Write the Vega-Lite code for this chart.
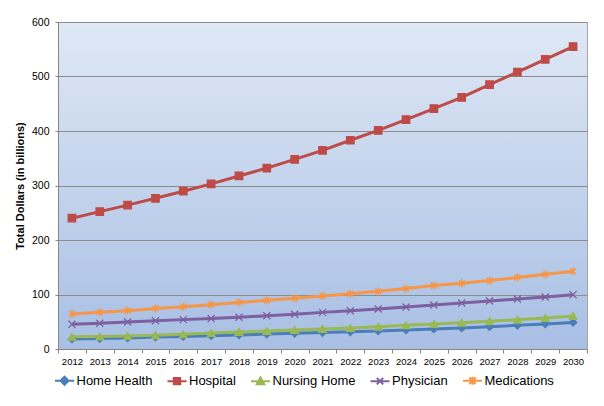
{
  "$schema": "https://vega.github.io/schema/vega-lite/v6.json",
  "description": "Projected total dollars by care category, 2012-2030.",
  "width": 529,
  "height": 327,
  "autosize": "none",
  "padding": {"left": 58, "top": 22, "right": 17, "bottom": 57},
  "background": "white",
  "datasets": {
    "costs": [
      {"year": 2012, "series": "Home Health", "value": 18.5},
      {"year": 2013, "series": "Home Health", "value": 19.2},
      {"year": 2014, "series": "Home Health", "value": 20.2},
      {"year": 2015, "series": "Home Health", "value": 21.8},
      {"year": 2016, "series": "Home Health", "value": 23},
      {"year": 2017, "series": "Home Health", "value": 24.4},
      {"year": 2018, "series": "Home Health", "value": 25.7},
      {"year": 2019, "series": "Home Health", "value": 27.4},
      {"year": 2020, "series": "Home Health", "value": 28.7},
      {"year": 2021, "series": "Home Health", "value": 30.2},
      {"year": 2022, "series": "Home Health", "value": 31.6},
      {"year": 2023, "series": "Home Health", "value": 33.2},
      {"year": 2024, "series": "Home Health", "value": 35},
      {"year": 2025, "series": "Home Health", "value": 36.8},
      {"year": 2026, "series": "Home Health", "value": 38.6},
      {"year": 2027, "series": "Home Health", "value": 41},
      {"year": 2028, "series": "Home Health", "value": 43.4},
      {"year": 2029, "series": "Home Health", "value": 45.9},
      {"year": 2030, "series": "Home Health", "value": 48.8},
      {"year": 2012, "series": "Hospital", "value": 240},
      {"year": 2013, "series": "Hospital", "value": 252},
      {"year": 2014, "series": "Hospital", "value": 264},
      {"year": 2015, "series": "Hospital", "value": 276.5},
      {"year": 2016, "series": "Hospital", "value": 289.5},
      {"year": 2017, "series": "Hospital", "value": 303},
      {"year": 2018, "series": "Hospital", "value": 317.5},
      {"year": 2019, "series": "Hospital", "value": 332},
      {"year": 2020, "series": "Hospital", "value": 348},
      {"year": 2021, "series": "Hospital", "value": 364.5},
      {"year": 2022, "series": "Hospital", "value": 383},
      {"year": 2023, "series": "Hospital", "value": 401},
      {"year": 2024, "series": "Hospital", "value": 421},
      {"year": 2025, "series": "Hospital", "value": 441},
      {"year": 2026, "series": "Hospital", "value": 461.5},
      {"year": 2027, "series": "Hospital", "value": 485},
      {"year": 2028, "series": "Hospital", "value": 508},
      {"year": 2029, "series": "Hospital", "value": 531.5},
      {"year": 2030, "series": "Hospital", "value": 555},
      {"year": 2012, "series": "Nursing Home", "value": 22.5},
      {"year": 2013, "series": "Nursing Home", "value": 23},
      {"year": 2014, "series": "Nursing Home", "value": 24},
      {"year": 2015, "series": "Nursing Home", "value": 25.3},
      {"year": 2016, "series": "Nursing Home", "value": 27},
      {"year": 2017, "series": "Nursing Home", "value": 29.2},
      {"year": 2018, "series": "Nursing Home", "value": 31.2},
      {"year": 2019, "series": "Nursing Home", "value": 33},
      {"year": 2020, "series": "Nursing Home", "value": 35},
      {"year": 2021, "series": "Nursing Home", "value": 36.8},
      {"year": 2022, "series": "Nursing Home", "value": 38.6},
      {"year": 2023, "series": "Nursing Home", "value": 41},
      {"year": 2024, "series": "Nursing Home", "value": 43.4},
      {"year": 2025, "series": "Nursing Home", "value": 45.9},
      {"year": 2026, "series": "Nursing Home", "value": 48.3},
      {"year": 2027, "series": "Nursing Home", "value": 50.9},
      {"year": 2028, "series": "Nursing Home", "value": 53.8},
      {"year": 2029, "series": "Nursing Home", "value": 56.9},
      {"year": 2030, "series": "Nursing Home", "value": 60.6},
      {"year": 2012, "series": "Physician", "value": 45.3},
      {"year": 2013, "series": "Physician", "value": 47.2},
      {"year": 2014, "series": "Physician", "value": 49.5},
      {"year": 2015, "series": "Physician", "value": 52},
      {"year": 2016, "series": "Physician", "value": 53.9},
      {"year": 2017, "series": "Physician", "value": 55.8},
      {"year": 2018, "series": "Physician", "value": 58.2},
      {"year": 2019, "series": "Physician", "value": 61},
      {"year": 2020, "series": "Physician", "value": 63.7},
      {"year": 2021, "series": "Physician", "value": 67.2},
      {"year": 2022, "series": "Physician", "value": 70.3},
      {"year": 2023, "series": "Physician", "value": 73.4},
      {"year": 2024, "series": "Physician", "value": 77},
      {"year": 2025, "series": "Physician", "value": 80.7},
      {"year": 2026, "series": "Physician", "value": 84.3},
      {"year": 2027, "series": "Physician", "value": 88},
      {"year": 2028, "series": "Physician", "value": 91.7},
      {"year": 2029, "series": "Physician", "value": 95.4},
      {"year": 2030, "series": "Physician", "value": 99.7},
      {"year": 2012, "series": "Medications", "value": 64.2},
      {"year": 2013, "series": "Medications", "value": 67.3},
      {"year": 2014, "series": "Medications", "value": 70.4},
      {"year": 2015, "series": "Medications", "value": 74.5},
      {"year": 2016, "series": "Medications", "value": 77.7},
      {"year": 2017, "series": "Medications", "value": 81.3},
      {"year": 2018, "series": "Medications", "value": 85.5},
      {"year": 2019, "series": "Medications", "value": 89.3},
      {"year": 2020, "series": "Medications", "value": 93.2},
      {"year": 2021, "series": "Medications", "value": 97.3},
      {"year": 2022, "series": "Medications", "value": 101.5},
      {"year": 2023, "series": "Medications", "value": 105.8},
      {"year": 2024, "series": "Medications", "value": 110.8},
      {"year": 2025, "series": "Medications", "value": 116.5},
      {"year": 2026, "series": "Medications", "value": 120.5},
      {"year": 2027, "series": "Medications", "value": 125.5},
      {"year": 2028, "series": "Medications", "value": 131.3},
      {"year": 2029, "series": "Medications", "value": 137},
      {"year": 2030, "series": "Medications", "value": 142.6}
    ]
  },
  "data": {"name": "costs"},
  "encoding": {
    "x": {
      "field": "year",
      "type": "ordinal",
      "scale": {"type": "band", "paddingInner": 0, "paddingOuter": 0},
      "axis": {
        "title": null,
        "labelAngle": 0,
        "labelFontSize": 9.5,
        "labelColor": "#000000",
        "labelPadding": 3,
        "tickBand": "extent",
        "tickSize": 4,
        "tickColor": "#868686",
        "domainColor": "#868686",
        "grid": false
      }
    },
    "y": {
      "field": "value",
      "type": "quantitative",
      "scale": {"domain": [0, 600], "nice": false},
      "axis": {
        "title": "Total Dollars (in billions)",
        "titleFontSize": 11,
        "titleFontWeight": "bold",
        "titleColor": "#000000",
        "titlePadding": 6,
        "values": [0, 100, 200, 300, 400, 500, 600],
        "labelFontSize": 10.5,
        "labelColor": "#000000",
        "labelPadding": 6,
        "tickSize": 3,
        "tickColor": "#868686",
        "domainColor": "#868686",
        "gridColor": "#8c8c8c",
        "gridWidth": 1
      }
    },
    "color": {
      "field": "series",
      "type": "nominal",
      "scale": {
        "domain": ["Home Health", "Hospital", "Nursing Home", "Physician", "Medications"],
        "range": ["#4a7ebb", "#be4b48", "#98b954", "#7d60a0", "#f79646"]
      },
      "legend": {
        "orient": "none",
        "legendX": -4,
        "legendY": 348,
        "direction": "horizontal",
        "title": null,
        "labelFontSize": 13,
        "labelColor": "#000000",
        "labelOffset": 1.5,
        "columnPadding": 10.5,
        "symbolSize": 361,
        "symbolStrokeWidth": 2,
        "encode": {
          "symbols": {
            "update": {
              "shape": {"signal": "datum.value === 'Home Health' ? 'M-1,0L1,0M0,-0.42L0.42,0L0,0.42L-0.42,0Z' : datum.value === 'Hospital' ? 'M-1,0L1,0M-0.34,-0.34L0.34,-0.34L0.34,0.34L-0.34,0.34Z' : datum.value === 'Nursing Home' ? 'M-1,0L1,0M0,-0.4L0.4,0.32L-0.4,0.32Z' : datum.value === 'Physician' ? 'M-1,0L1,0M-0.34,-0.34L0.34,0.34M-0.34,0.34L0.34,-0.34' : 'M-1,0L1,0M-0.34,-0.34L0.34,0.34M-0.34,0.34L0.34,-0.34M0,-0.42L0,0.42'"},
              "fill": {"signal": "scale('color', datum.value)"},
              "stroke": {"signal": "scale('color', datum.value)"},
              "strokeWidth": {"value": 2},
              "opacity": {"value": 1}
            }
          }
        }
      }
    }
  },
  "layer": [
    {
      "mark": {"type": "line", "strokeWidth": 3}
    },
    {
      "transform": [{"filter": "datum.series === 'Home Health'"}],
      "mark": {"type": "point", "shape": "diamond", "filled": true, "size": 55, "stroke": "#4a7ebb", "strokeWidth": 1.3, "opacity": 1}
    },
    {
      "transform": [{"filter": "datum.series === 'Hospital'"}],
      "mark": {"type": "point", "shape": "square", "filled": true, "size": 55, "stroke": "#be4b48", "strokeWidth": 1.3, "opacity": 1}
    },
    {
      "transform": [{"filter": "datum.series === 'Nursing Home'"}],
      "mark": {"type": "point", "shape": "triangle-up", "filled": true, "size": 60, "stroke": "#98b954", "strokeWidth": 1.3, "opacity": 1}
    },
    {
      "transform": [{"filter": "datum.series === 'Physician'"}],
      "mark": {"type": "point", "shape": "M-1,-1L1,1M-1,1L1,-1", "filled": true, "size": 50, "stroke": "#7d60a0", "strokeWidth": 1.3, "opacity": 1}
    },
    {
      "transform": [{"filter": "datum.series === 'Medications'"}],
      "mark": {"type": "point", "shape": "M-0.8,-0.8L0.8,0.8M-0.8,0.8L0.8,-0.8M0,-1.1L0,1.1", "filled": true, "size": 55, "stroke": "#f79646", "strokeWidth": 1.3, "opacity": 1}
    }
  ],
  "config": {
    "font": "Liberation Sans",
    "view": {
      "fill": {
        "gradient": "linear",
        "x1": 0, "y1": 0, "x2": 0, "y2": 1,
        "stops": [
          {"offset": 0, "color": "#dfe8f5"},
          {"offset": 1, "color": "#a8bfe4"}
        ]
      },
      "stroke": "#a6a6a6"
    }
  }
}
